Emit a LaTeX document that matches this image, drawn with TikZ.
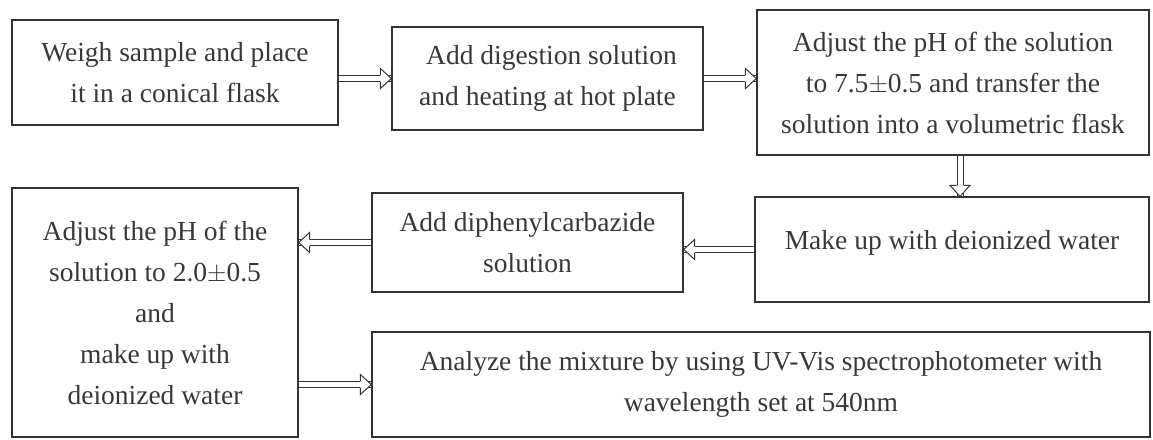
\documentclass[tikz,border=0pt]{standalone}
\usepackage{fontspec}
\setmainfont{Liberation Serif}
\usetikzlibrary{arrows.meta,decorations.markings}
\begin{document}
\begin{tikzpicture}[x=1pt,y=1pt,
  stepbox/.style={draw=black!80,line width=1.3pt,align=center,inner sep=0pt,
    font=\fontsize{27.5}{41}\selectfont,text=black!78},
  arr/.style={draw=black!80,double,double distance=5pt,line width=1pt,
    postaction={decorate,decoration={markings,mark=at position 1 with {
      \fill[white] (0pt,0pt) -- (-11pt,10pt) -- (-11pt,-10pt) -- cycle;
      \draw[black!80,line width=1pt,line join=miter]
        (-11pt,3.5pt) -- (-11pt,10pt) -- (0pt,0pt) -- (-11pt,-10pt) -- (-11pt,-3.5pt);}}}}]
\useasboundingbox (0,0) rectangle (1153,-439);
\node[stepbox,minimum width=326,minimum height=105] (b1) at (175,-72.5)
  {Weigh sample and place\\it in a conical flask};
\node[stepbox,minimum width=311,minimum height=103] (b2) at (547.5,-78.5)
  {\hspace*{8pt}Add digestion solution\\and heating at hot plate};
\node[stepbox,minimum width=392,minimum height=145] (b3) at (953,-82.5)
  {Adjust the pH of the solution\\to 7.5$\pm$0.5 and transfer the\\solution into a volumetric flask};
\node[stepbox,minimum width=394,minimum height=105,text depth=20pt] (b4) at (952,-249.5)
  {Make up with deionized water};
\node[stepbox,minimum width=311,minimum height=99] (b5) at (527.5,-242.5)
  {Add diphenylcarbazide\\solution};
\node[stepbox,minimum width=286,minimum height=249] (b6) at (155,-312.5)
  {Adjust the pH of the\\solution to 2.0$\pm$0.5\\and\\make up with\\deionized water};
\node[stepbox,minimum width=778,minimum height=105] (b7) at (761,-384.5)
  {Analyze the mixture by using UV-Vis spectrophotometer with\\wavelength set at 540nm};
\draw[arr] (b1.east |- b2.west) -- (b2.west);
\draw[arr] (b2.east) -- (b2.east -| b3.west);
\draw[arr] ([xshift=7pt]b3.south) -- ([xshift=7pt]b3.south |- b4.north);
\draw[arr] (b4.west) -- (b4.west -| b5.east);
\draw[arr] (b5.west) -- (b5.west -| b6.east);
\draw[arr] (b6.east |- b7.west) -- (b7.west);
\end{tikzpicture}
\end{document}
